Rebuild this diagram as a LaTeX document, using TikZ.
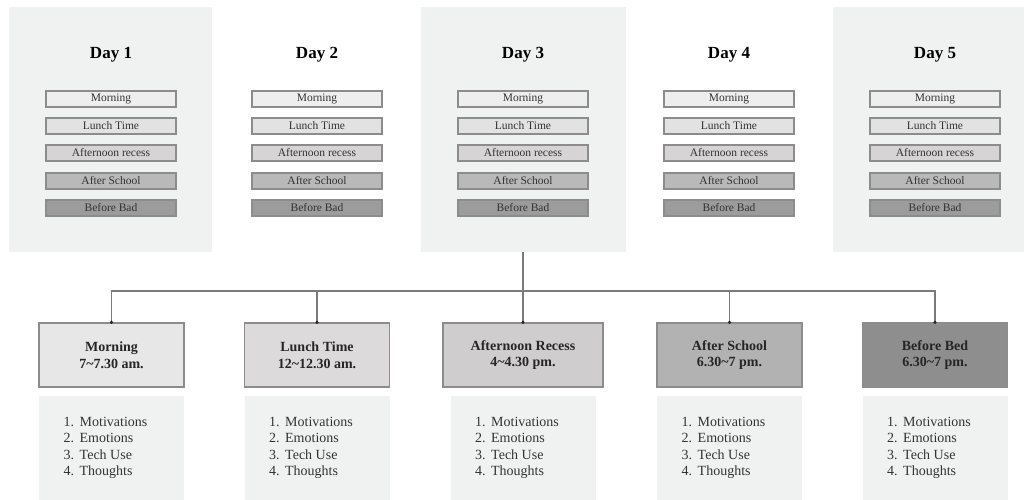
\documentclass[tikz,border=0pt]{standalone}
\usepackage{fontspec}
\setmainfont{Liberation Serif}
\begin{document}
\begin{tikzpicture}[x=1pt,y=-1pt,
  panel/.style={fill=panelbg,draw=none},
  bar/.style={draw=bordergrey,line width=1.1pt,minimum width=130pt,minimum height=16pt,inner sep=0pt,font=\fontsize{11.5}{12}\selectfont,text=black!80},
  daytitle/.style={font=\bfseries\fontsize{17}{19}\selectfont},
  slot/.style={draw=bordergrey,line width=1.3pt,minimum width=145pt,minimum height=64pt,inner sep=0pt,align=center,font=\bfseries\fontsize{14}{16.5}\selectfont,text=black!85},
  listbox/.style={fill=panelbg,draw=none,minimum width=145pt,minimum height=104pt,inner sep=0pt},
  items/.style={align=left,font=\fontsize{14}{16.5}\selectfont,text=black!80,inner sep=0pt},
  link/.style={draw=linegrey,line width=1.3pt},
  pin/.style={circle,fill=black!85,inner sep=0pt,minimum size=3.5pt}
]
\definecolor{panelbg}{HTML}{F0F1F1}
\definecolor{bordergrey}{HTML}{8C8C8C}
\definecolor{linegrey}{HTML}{7A7A7A}
\definecolor{shA}{HTML}{EEEEEE}
\definecolor{shB}{HTML}{E3E2E2}
\definecolor{shC}{HTML}{D6D4D5}
\definecolor{shD}{HTML}{B9B9B9}
\definecolor{shE}{HTML}{9C9C9C}
\definecolor{bxA}{HTML}{E7E7E7}
\definecolor{bxB}{HTML}{DCDADA}
\definecolor{bxC}{HTML}{CFCDCE}
\definecolor{bxD}{HTML}{B2B2B2}
\definecolor{bxE}{HTML}{8E8E8E}

\useasboundingbox (0,0) rectangle (1025,500);
\fill[white] (0,0) rectangle (1025,500);

% shaded day panels (days 1, 3 and 5)
\fill[panel] (9,7) rectangle (212,252);
\fill[panel] (421,7) rectangle (626,252);
\fill[panel] (833,7) rectangle (1024,252);
\coordinate (p3) at (523,252);

% day columns with their time-slot bars
\foreach \n/\cx in {1/111,2/317,3/523,4/729,5/935}{
  \node[daytitle] (day\n) at (\cx,55) {Day \n};
  \node[bar,fill=shA] (d\n a) at (\cx,99)  {Morning};
  \node[bar,fill=shB] (d\n b) at (\cx,126) {Lunch Time};
  \node[bar,fill=shC] (d\n c) at (\cx,153) {Afternoon recess};
  \node[bar,fill=shD] (d\n d) at (\cx,181) {After School};
  \node[bar,fill=shE] (d\n e) at (\cx,208) {Before Bad};
}

% time-slot boxes
\node[slot,fill=bxA] (s1) at (111.5,355) {Morning\\7\textasciitilde7.30 am.};
\node[slot,fill=bxB] (s2) at (317,355) {Lunch Time\\12\textasciitilde12.30 am.};
\node[slot,fill=bxC,minimum width=160pt] (s3) at (523,355) {Afternoon Recess\\4\textasciitilde4.30 pm.};
\node[slot,fill=bxD] (s4) at (729.5,355) {After School\\6.30\textasciitilde7 pm.};
\node[slot,fill=bxE] (s5) at (935,355) {Before Bed\\6.30\textasciitilde7 pm.};

% item lists under each slot
\foreach \i/\cx in {1/111.5,2/317,3/523,4/729.5,5/935}{
  \node[listbox,minimum width=145pt] (l\i) at (\cx,448) {};
  \node[items,anchor=north west] (t\i) at ([xshift=-48pt]\cx,417)
    {\makebox[16pt][l]{1.}Motivations\\\makebox[16pt][l]{2.}Emotions\\\makebox[16pt][l]{3.}Tech Use\\\makebox[16pt][l]{4.}Thoughts};
}

% connectors from day 3 down to the slots
\coordinate (hub) at (523,291);
\draw[link] (p3) -- (hub);
\draw[link] (s1.north) |- (hub) -| (s5.north);
\foreach \i in {1,...,5}{
  \draw[link] (s\i.north) -- (s\i.north |- hub);
  \node[pin] at (s\i.north) {};
}
\end{tikzpicture}
\end{document}
